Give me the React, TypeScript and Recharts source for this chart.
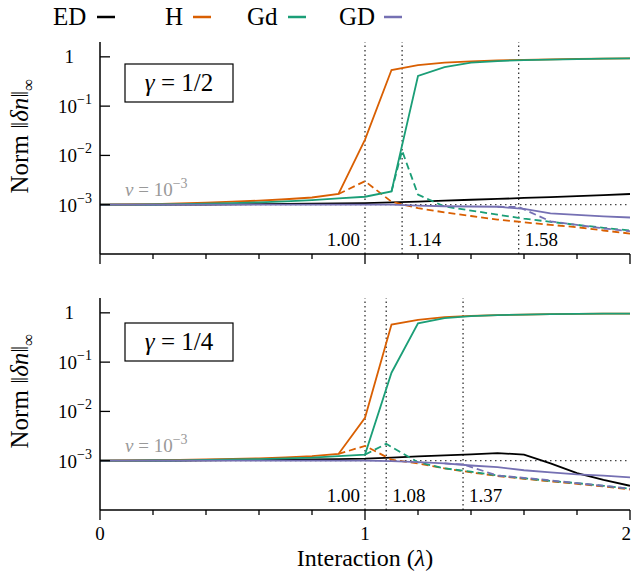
import React from 'react';
import { LineChart, Line, XAxis, YAxis, ReferenceLine } from 'recharts';

const SERIF = '"Liberation Serif", "DejaVu Serif", serif';

const lambdas = [0, 0.1, 0.2, 0.3, 0.4, 0.5, 0.6, 0.7, 0.8, 0.9, 1.0, 1.1, 1.2, 1.3, 1.4, 1.5, 1.6, 1.7, 1.8, 1.9, 2.0];
const xTicks = [0, 0.2, 0.4, 0.6, 0.8, 1, 1.2, 1.4, 1.6, 1.8, 2];
const yTicks = [1e-3, 1e-2, 1e-1, 1];
const tolerance = 1e-3;

const seriesNames = ['ED', 'H', 'Gd', 'GD'];
const seriesColors = ['#000000', '#d95f02', '#1b9e77', '#7570b3'];

// gamma = 1/2
const halfED = [1.0e-3, 1.0e-3, 1.0e-3, 1.01e-3, 1.01e-3, 1.02e-3, 1.03e-3, 1.04e-3, 1.05e-3, 1.06e-3, 1.08e-3, 1.11e-3, 1.16e-3, 1.21e-3, 1.26e-3, 1.31e-3, 1.37e-3, 1.43e-3, 1.5e-3, 1.57e-3, 1.65e-3];
const halfH = [1.0e-3, 1.01e-3, 1.03e-3, 1.06e-3, 1.1e-3, 1.15e-3, 1.21e-3, 1.29e-3, 1.4e-3, 1.65e-3, 0.021, 0.54, 0.68, 0.76, 0.81, 0.85, 0.87, 0.89, 0.91, 0.92, 0.93];
const halfGd = [1.0e-3, 1.0e-3, 1.01e-3, 1.03e-3, 1.05e-3, 1.08e-3, 1.12e-3, 1.17e-3, 1.24e-3, 1.34e-3, 1.45e-3, 1.86e-3, 0.41, 0.62, 0.76, 0.82, 0.86, 0.88, 0.9, 0.92, 0.93];
const halfGD = [1.0e-3, 1.0e-3, 1.0e-3, 1.0e-3, 1.0e-3, 1.0e-3, 1.0e-3, 1.0e-3, 1.0e-3, 1.0e-3, 1.0e-3, 1.0e-3, 0.96e-3, 0.93e-3, 0.92e-3, 0.91e-3, 0.82e-3, 0.67e-3, 0.62e-3, 0.58e-3, 0.55e-3];
const halfHDashX = [0.9, 1.0, 1.1, 1.2, 1.3, 1.4, 1.5, 1.6, 1.7, 1.8, 1.9, 2.0];
const halfHDash = [1.65e-3, 3.0e-3, 1.15e-3, 0.85e-3, 0.7e-3, 0.59e-3, 0.5e-3, 0.44e-3, 0.39e-3, 0.35e-3, 0.3e-3, 0.26e-3];
const halfGdDashX = [1.1, 1.14, 1.2, 1.3, 1.4, 1.5, 1.6, 1.7, 1.8, 1.9, 2.0];
const halfGdDash = [1.86e-3, 0.0125, 1.6e-3, 0.92e-3, 0.76e-3, 0.63e-3, 0.52e-3, 0.45e-3, 0.39e-3, 0.34e-3, 0.3e-3];
const halfGDDashX = [1.5, 1.58, 1.7, 1.8, 1.9, 2.0];
const halfGDDash = [0.91e-3, 0.9e-3, 0.46e-3, 0.39e-3, 0.33e-3, 0.29e-3];
const halfCrit = [1.0, 1.14, 1.58];

// gamma = 1/4
const quarterED = [1.0e-3, 1.0e-3, 1.01e-3, 1.01e-3, 1.02e-3, 1.03e-3, 1.04e-3, 1.05e-3, 1.06e-3, 1.08e-3, 1.1e-3, 1.16e-3, 1.22e-3, 1.28e-3, 1.35e-3, 1.43e-3, 1.33e-3, 0.88e-3, 0.56e-3, 0.41e-3, 0.31e-3];
const quarterH = [1.0e-3, 1.01e-3, 1.02e-3, 1.04e-3, 1.06e-3, 1.09e-3, 1.12e-3, 1.17e-3, 1.24e-3, 1.37e-3, 7.4e-3, 0.58, 0.72, 0.82, 0.87, 0.9, 0.92, 0.94, 0.95, 0.96, 0.96];
const quarterGd = [1.0e-3, 1.0e-3, 1.01e-3, 1.02e-3, 1.04e-3, 1.06e-3, 1.08e-3, 1.11e-3, 1.15e-3, 1.24e-3, 1.33e-3, 0.061, 0.61, 0.78, 0.86, 0.9, 0.92, 0.94, 0.95, 0.96, 0.96];
const quarterGD = [1.0e-3, 1.0e-3, 1.0e-3, 1.0e-3, 1.0e-3, 1.0e-3, 1.0e-3, 1.0e-3, 1.0e-3, 1.0e-3, 1.0e-3, 0.98e-3, 0.94e-3, 0.88e-3, 0.8e-3, 0.74e-3, 0.64e-3, 0.58e-3, 0.53e-3, 0.5e-3, 0.46e-3];
const quarterHDashX = [0.9, 1.0, 1.1, 1.2, 1.3, 1.4, 1.5, 1.6, 1.7, 1.8, 1.9, 2.0];
const quarterHDash = [1.37e-3, 2.0e-3, 1.05e-3, 0.88e-3, 0.7e-3, 0.58e-3, 0.49e-3, 0.43e-3, 0.38e-3, 0.34e-3, 0.3e-3, 0.26e-3];
const quarterGdDashX = [1.0, 1.08, 1.2, 1.3, 1.4, 1.5, 1.6, 1.7, 1.8, 1.9, 2.0];
const quarterGdDash = [1.33e-3, 2.2e-3, 0.93e-3, 0.7e-3, 0.6e-3, 0.5e-3, 0.44e-3, 0.39e-3, 0.35e-3, 0.31e-3, 0.27e-3];
const quarterGDDashX = [1.3, 1.37, 1.5, 1.6, 1.7, 1.8, 1.9, 2.0];
const quarterGDDash = [0.88e-3, 0.84e-3, 0.5e-3, 0.45e-3, 0.4e-3, 0.35e-3, 0.31e-3, 0.27e-3];
const quarterCrit = [1.0, 1.08, 1.37];

type Pt = { x: number; y: number };
const pts = (xs: number[], ys: number[]): Pt[] => xs.map((x, i) => ({ x, y: ys[i] }));

const XTick = ({ x, y, payload, showLabel }: any) => {
  const major = Math.abs(payload.value - Math.round(payload.value)) < 1e-6;
  // the last label sits against the right edge
  const isLast = payload.value === 2;
  return (
    <g>
      <line x1={x} x2={x} y1={y} y2={y + (major ? 10 : 5)} stroke="#000" strokeWidth={1.3} />
      {showLabel && major && (
        <text x={isLast ? x + 1 : x} y={y + 30} textAnchor={isLast ? 'end' : 'middle'}
          fontFamily={SERIF} fontSize={19} fill="#000">
          {payload.value}
        </text>
      )}
    </g>
  );
};

const YTick = ({ x, y, payload }: any) => {
  const exp = Math.round(Math.log10(payload.value));
  return (
    <g>
      <line x1={x} x2={x + 10} y1={y} y2={y} stroke="#000" strokeWidth={1.3} />
      {exp === 0 ? (
        <text x={x - 26} y={y + 6} textAnchor="end" fontFamily={SERIF} fontSize={19} fill="#000">1</text>
      ) : (
        <text x={x - 8} y={y + 7} textAnchor="end" fontFamily={SERIF} fontSize={19} fill="#000">
          10<tspan dy={-9} fontSize={14}>{`\u2212${-exp}`}</tspan>
        </text>
      )}
    </g>
  );
};

const critLabel = (value: number, left: boolean) => (props: any) => {
  const { x, y, height } = props.viewBox;
  return (
    <text x={left ? x - 5 : x + 6} y={y + height - 8} textAnchor={left ? 'end' : 'start'}
      fontFamily={SERIF} fontSize={19} fill="#000">
      {value.toFixed(2)}
    </text>
  );
};

const toleranceLabel = (props: any) => {
  const { x, y } = props.viewBox;
  return (
    <text x={x + 25} y={y - 9} fontFamily={SERIF} fontSize={19} fill="#999">
      <tspan fontStyle="italic">v</tspan> = 10<tspan dy={-8} fontSize={14}>{'\u22123'}</tspan>
    </text>
  );
};

interface PanelProps {
  top: number;
  height: number;
  xAxisHeight: number;
  solid: number[][];
  dashed: { xs: number[]; ys: number[] }[];
  crit: number[];
  showXLabels: boolean;
}

function Panel({ top, height, xAxisHeight, solid, dashed, crit, showXLabels }: PanelProps) {
  const lines: React.ReactNode[] = [];
  solid.forEach((ys, i) => {
    lines.push(
      <Line key={`s-${i}`} data={pts(lambdas, ys)} dataKey="y" type="linear" stroke={seriesColors[i]}
        strokeWidth={1.8} dot={false} isAnimationActive={false} />
    );
    const d = dashed[i - 1];
    if (i > 0 && d) {
      lines.push(
        <Line key={`d-${i}`} data={pts(d.xs, d.ys)} dataKey="y" type="linear" stroke={seriesColors[i]}
          strokeWidth={1.8} strokeDasharray="7 4" dot={false} isAnimationActive={false} />
      );
    }
  });
  return (
    <div style={{ position: 'absolute', left: 0, top }}>
      <LineChart width={631} height={height} margin={{ top: 42, right: 1, bottom: 0, left: 0 }}>
        <XAxis type="number" dataKey="x" domain={[0, 2]} ticks={xTicks} interval={0} allowDataOverflow
          height={xAxisHeight} tickLine={false} tickSize={0} tickMargin={0}
          axisLine={{ stroke: '#000', strokeWidth: 1.5 }}
          tick={(p: any) => <XTick {...p} showLabel={showXLabels} />} />
        <YAxis type="number" scale="log" domain={[1e-4, 2]} ticks={yTicks} interval={0} allowDataOverflow
          width={100} tickLine={false} tickSize={0} tickMargin={0}
          axisLine={{ stroke: '#000', strokeWidth: 1.5 }}
          tick={(p: any) => <YTick {...p} />} />
        <ReferenceLine y={tolerance} stroke="#444" strokeWidth={1.2} strokeDasharray="1.5 3.5" label={toleranceLabel} />
        {crit.map((c, i) => (
          <ReferenceLine key={c} x={c} stroke="#222" strokeWidth={1.2} strokeDasharray="1.5 3"
            label={critLabel(c, i === 0)} />
        ))}
        {lines}
      </LineChart>
    </div>
  );
}

function Overlay() {
  const legendX = [53, 165, 247, 339];
  const lineX = [97, 193, 288, 384];
  const yLabel = (cy: number) => (
    <text transform={`rotate(-90 28 ${cy})`} x={28} y={cy} textAnchor="middle" fontFamily={SERIF} fontSize={25} fill="#000">
      Norm ‖<tspan fontStyle="italic">δn</tspan>‖<tspan dy={6} fontSize={17}>∞</tspan>
    </text>
  );
  const gammaBox = (y: number, denom: number) => (
    <g>
      <rect x={125} y={y} width={108} height={38} fill="#fff" stroke="#000" strokeWidth={1.2} />
      <text x={179} y={y + 27} textAnchor="middle" fontFamily={SERIF} fontSize={25} fill="#000">
        <tspan fontStyle="italic">γ</tspan> = 1/{denom}
      </text>
    </g>
  );
  return (
    <svg width={631} height={581} style={{ position: 'absolute', left: 0, top: 0, pointerEvents: 'none' }}>
      {seriesNames.map((name, i) => (
        <g key={name}>
          <text x={legendX[i]} y={25} fontFamily={SERIF} fontSize={25} fill="#000">{name}</text>
          <line x1={lineX[i]} x2={lineX[i] + 18} y1={17} y2={17} stroke={seriesColors[i]} strokeWidth={2.5} />
        </g>
      ))}
      {yLabel(136)}
      {yLabel(391)}
      {gammaBox(64, 2)}
      {gammaBox(323, 4)}
      <text x={365} y={566} textAnchor="middle" fontFamily={SERIF} fontSize={24} fill="#000">
        Interaction (<tspan fontStyle="italic">λ</tspan>)
      </text>
    </svg>
  );
}

export default function App() {
  return (
    <div style={{ position: 'absolute', left: 0, top: 0, width: 631, height: 581, background: '#fff' }}>
      <Panel top={0} height={274} xAxisHeight={20} crit={halfCrit} showXLabels={false}
        solid={[halfED, halfH, halfGd, halfGD]}
        dashed={[
          { xs: halfHDashX, ys: halfHDash },
          { xs: halfGdDashX, ys: halfGdDash },
          { xs: halfGDDashX, ys: halfGDDash },
        ]} />
      <Panel top={256} height={325} xAxisHeight={71} crit={quarterCrit} showXLabels
        solid={[quarterED, quarterH, quarterGd, quarterGD]}
        dashed={[
          { xs: quarterHDashX, ys: quarterHDash },
          { xs: quarterGdDashX, ys: quarterGdDash },
          { xs: quarterGDDashX, ys: quarterGDDash },
        ]} />
      <Overlay />
    </div>
  );
}
